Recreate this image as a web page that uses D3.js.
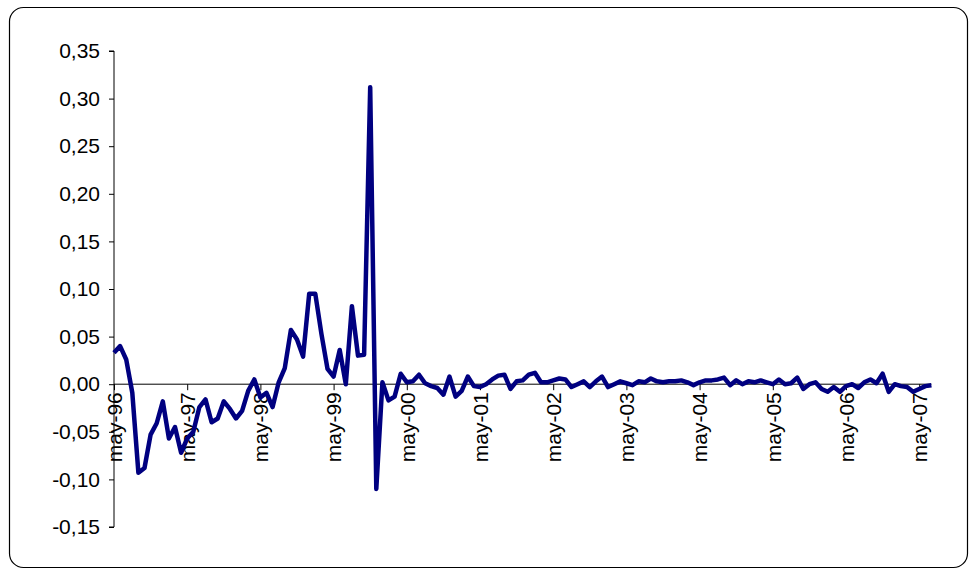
<!DOCTYPE html>
<html><head><meta charset="utf-8">
<script src="https://cdn.jsdelivr.net/npm/d3@7"></script>
<style>body{margin:0;background:#fff}svg{font-family:Arial,"Liberation Sans",sans-serif}</style>
</head><body><svg id="c" width="970" height="571"></svg>
<script>
const values = [0.033,0.040,0.026,-0.009,-0.093,-0.088,-0.053,-0.041,-0.018,-0.057,-0.045,-0.072,
-0.057,-0.050,-0.024,-0.016,-0.040,-0.036,-0.018,-0.026,-0.036,-0.028,-0.007,
0.005,-0.014,-0.009,-0.024,0.002,0.017,0.057,0.047,0.029,0.095,0.095,0.053,
0.016,0.008,0.036,0.000,0.082,0.030,0.031,0.312,-0.110,0.002,-0.017,-0.013,
0.011,0.002,0.003,0.010,0.001,-0.002,-0.004,-0.011,0.008,-0.013,-0.007,0.008,-0.002,-0.003,0.000,0.005,0.009,0.010,-0.005,0.003,0.004,0.010,0.012,0.002,0.002,0.004,0.006,0.005,-0.003,0.000,0.003,-0.003,0.003,0.008,-0.003,0.000,0.003,0.001,-0.001,0.003,0.002,0.006,0.003,0.002,0.003,0.003,0.004,0.002,
-0.001,0.002,0.004,0.004,0.005,0.007,-0.001,0.004,0.000,0.003,0.002,0.004,0.002,0.000,0.005,0.000,0.001,0.007,-0.005,0.000,0.002,-0.005,-0.008,-0.003,-0.008,-0.002,0.000,-0.004,0.002,0.005,0.001,0.011,-0.008,0.000,-0.002,-0.003,-0.008,-0.005,-0.002,-0.001];
const tickLabels = ["may-96","may-97","may-98","may-99","may-00","may-01","may-02","may-03","may-04","may-05","may-06","may-07"];
const yTicks = [-0.15,-0.10,-0.05,0,0.05,0.10,0.15,0.20,0.25,0.30,0.35];

const svg = d3.select("#c");
svg.append("rect").attr("x",9.5).attr("y",7.5).attr("width",958).attr("height",560).attr("rx",14)
  .attr("fill","#fff").attr("stroke","#000").attr("stroke-width",1.2);

const x0 = 114, step = 6.1;
const x = d3.scaleLinear().domain([0, values.length-1]).range([x0, x0 + step*(values.length-1)]);
const y = d3.scaleLinear().domain([-0.15,0.35]).range([527,51]);
const fmt = d => d3.format(".2f")(d).replace(".",",").replace("−","-");

const ya = svg.append("g").attr("transform",`translate(${x0},0)`)
  .call(d3.axisLeft(y).tickValues(yTicks).tickSize(5).tickFormat(fmt));
ya.selectAll("text").attr("font-size",21).attr("fill","#000").attr("dx",-6);
ya.selectAll("line,path").attr("stroke","#000");
ya.select(".domain").attr("d",`M-5,${y(0.35)}H0V${y(-0.15)}H-5`);

const xa = svg.append("g").attr("transform",`translate(0,${y(0)})`)
  .call(d3.axisBottom(x).tickValues(tickLabels.map((d,i)=>i*12)).tickSize(6).tickFormat((d,i)=>tickLabels[i]));
xa.select(".domain").attr("d",`M${x0},0H${x(values.length-1)}`).attr("stroke","#000");
xa.selectAll("line").attr("stroke","#000");
xa.selectAll("text").attr("font-size",21).attr("fill","#000")
  .attr("transform","rotate(-90)").attr("text-anchor","end").attr("x",-8).attr("y",0).attr("dy","0.35em");

svg.append("path").datum(values)
  .attr("d", d3.line().x((d,i)=>x(i)).y(d=>y(d)))
  .attr("fill","none").attr("stroke","#000080").attr("stroke-width",4.5).attr("stroke-linejoin","round");
</script></body></html>
